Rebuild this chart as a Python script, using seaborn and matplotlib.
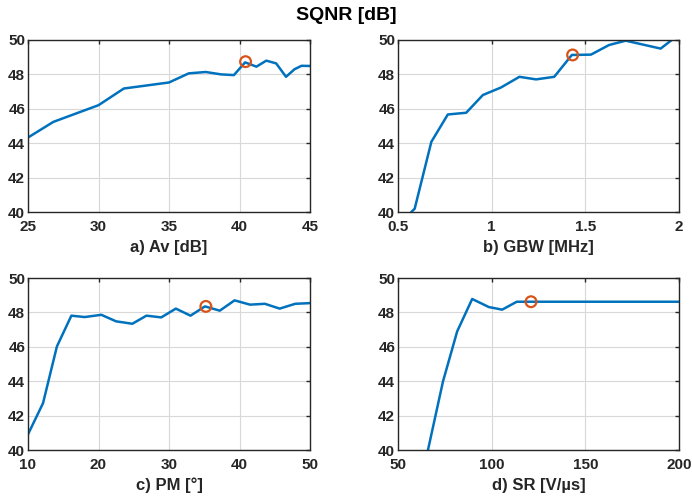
import matplotlib
matplotlib.use("Agg")
import matplotlib.pyplot as plt
import seaborn as sns
import pandas as pd

# ---- data ----
av_x = [25.0, 26.8, 30.0, 31.8, 35.0, 36.4, 37.6, 38.7, 39.6, 40.4, 41.2, 41.9, 42.6, 43.3, 43.9, 44.4, 45.0]
av_y = [44.33, 45.24, 46.21, 47.18, 47.53, 48.06, 48.14, 48.00, 47.96, 48.70, 48.45, 48.80, 48.64, 47.86, 48.30, 48.50, 48.49]
av_opt = (40.43, 48.74)

gbw_x = [0.571, 0.589, 0.678, 0.766, 0.864, 0.953, 1.05, 1.148, 1.237, 1.334, 1.428, 1.53, 1.627, 1.716, 1.902, 1.973, 2.0]
gbw_y = [40.0, 40.19, 44.08, 45.67, 45.77, 46.80, 47.24, 47.86, 47.71, 47.86, 49.13, 49.15, 49.71, 49.96, 49.50, 50.10, 50.30]
gbw_opt = (1.432, 49.13)

pm_x = [10.0, 12.13, 14.1, 16.15, 18.05, 20.4, 22.5, 24.8, 26.8, 28.9, 30.97, 33.05, 35.1, 37.2, 39.3, 41.5, 43.6, 45.7, 47.9, 50.0]
pm_y = [40.91, 42.72, 46.02, 47.81, 47.73, 47.86, 47.48, 47.34, 47.81, 47.71, 48.22, 47.81, 48.35, 48.10, 48.70, 48.45, 48.50, 48.22, 48.50, 48.54]
pm_opt = (35.23, 48.35)

sr_x = [66.0, 74.0, 81.6, 89.6, 98.5, 105.6, 113.4, 200.0]
sr_y = [40.0, 43.98, 46.90, 48.78, 48.31, 48.16, 48.62, 48.62]
sr_opt = (121.0, 48.62)

labels = ["a) Av [dB]", "b) GBW [MHz]", "c) PM [°]", "d) SR [V/µs]"]
xlims = [(25, 45), (0.5, 2), (10, 50), (50, 200)]
xticks = [[25, 30, 35, 40, 45], [0.5, 1, 1.5, 2], [10, 20, 30, 40, 50], [50, 100, 150, 200]]
xticklabels = [["25", "30", "35", "40", "45"], ["0.5", "1", "1.5", "2"],
               ["10", "20", "30", "40", "50"], ["50", "100", "150", "200"]]
yticks = [40, 42, 44, 46, 48, 50]

sns.set_theme(style="white")
plt.rcParams['font.family'] = ['Liberation Sans', 'DejaVu Sans']
plt.rcParams['font.weight'] = 'bold'

fig = plt.figure(figsize=(6.92, 4.98), dpi=100)
W, H = 692, 498
rects = [(28, 40, 310, 212), (398, 40, 679, 212), (28, 278, 310, 450), (398, 278, 679, 450)]
series = [(av_x, av_y, av_opt), (gbw_x, gbw_y, gbw_opt), (pm_x, pm_y, pm_opt), (sr_x, sr_y, sr_opt)]

blue = "#0072BD"
orange = "#D95319"
edge = "#262626"

for i, (r, (xs, ys, opt)) in enumerate(zip(rects, series)):
    l, t, rr, b = r
    ax = fig.add_axes([l / W, 1 - b / H, (rr - l) / W, (b - t) / H])
    df = pd.DataFrame({"x": xs, "y": ys})
    sns.lineplot(data=df, x="x", y="y", ax=ax, color=blue, linewidth=1.8, sort=False)
    od = pd.DataFrame({"x": [opt[0]], "y": [opt[1]]})
    sns.scatterplot(data=od, x="x", y="y", ax=ax, s=60, facecolors="none",
                    edgecolor=orange, linewidth=1.6, zorder=5)
    ax.set_xlim(*xlims[i])
    ax.set_ylim(40, 50)
    ax.set_xticks(xticks[i])
    ax.set_xticklabels(xticklabels[i])
    ax.set_yticks(yticks)
    ax.set_yticklabels([str(v) for v in yticks])
    ax.grid(True, color="#d8d8d8", linewidth=0.8)
    ax.set_axisbelow(True)
    for s in ax.spines.values():
        s.set_color(edge)
        s.set_linewidth(1.0)
    ax.tick_params(axis="both", direction="in", length=3, width=1.0, color=edge,
                   labelsize=11, labelcolor=edge, top=True, right=True)
    ax.tick_params(axis="x", pad=6)
    ax.tick_params(axis="y", pad=2)
    for lab in ax.get_xticklabels() + ax.get_yticklabels():
        lab.set_fontweight("bold")
    ax.set_ylabel("")
    ax.set_xlabel(labels[i], fontsize=12, fontweight="bold", color=edge, labelpad=4)

fig.text(346 / W, 1 - 15 / H, "SQNR [dB]", ha="center", va="center",
         fontsize=14, fontweight="bold", color="black")

fig.savefig("out.png", dpi=100)
